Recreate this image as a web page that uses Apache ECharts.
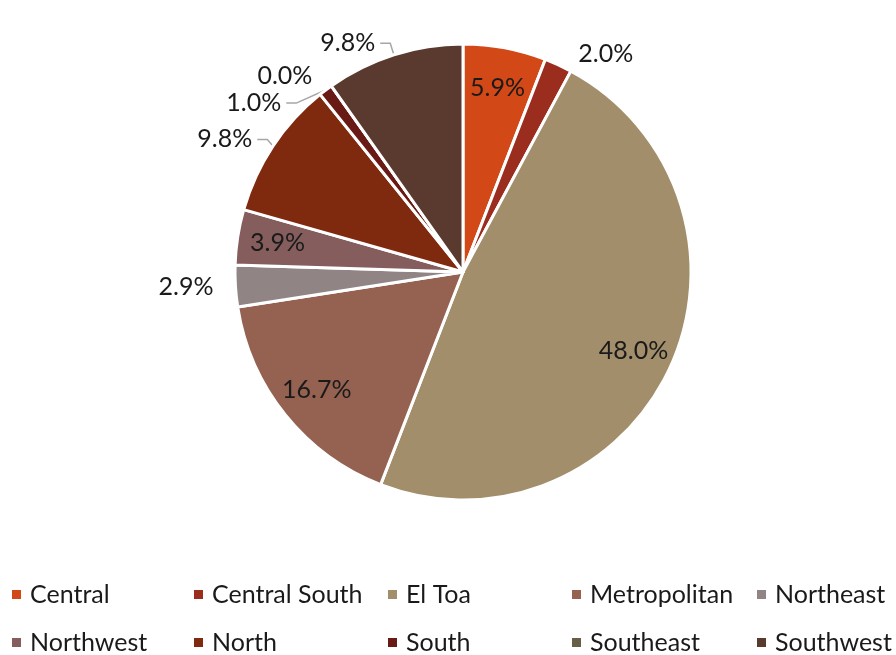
<!DOCTYPE html>
<html>
<head>
<meta charset="utf-8">
<script src="https://cdn.jsdelivr.net/npm/echarts@6/dist/echarts.min.js"></script>
<style>
  html, body { margin: 0; padding: 0; background: #fff; }
  #main { width: 896px; height: 655px; }
</style>
</head>
<body>
<div id="main"></div>
<script>
// regions and their counts (shown as percent of total)
const regions = ['Central', 'Central South', 'El Toa', 'Metropolitan', 'Northeast',
  'Northwest', 'North', 'South', 'Southeast', 'Southwest']
const counts = [6, 2, 49, 17, 3, 4, 10, 1, 0, 10]
const colors = ['#D34817', '#9B2D1F', '#A28E6A', '#956251', '#918485',
  '#855D5D', '#7F2A0E', '#6A1A14', '#675E47', '#5A3A2F']
// which slices carry their label inside
const insideLabel = [true, false, true, true, false, true, false, false, false, false]
// which outside labels have a leader line
const leaderLine = [false, false, false, false, false, false, true, true, false, true]

const total = counts.reduce((a, b) => a + b, 0)
const fmt = p => (p.value / total * 100).toFixed(1) + '%'

const center = [463, 272]
const radius = 228
const font = 'Lato'
const fontSize = 25

const chart = echarts.init(document.getElementById('main'))

// legend laid out in a fixed grid, one legend per entry
const colX = [10, 192, 386, 570, 755]
const rowY = [582, 630]
const legends = regions.map((name, i) => ({
  data: [name],
  left: colX[i % 5],
  top: rowY[Math.floor(i / 5)],
  icon: 'rect',
  itemWidth: 11,
  itemHeight: 11,
  padding: 0,
  selectedMode: false,
  textStyle: { fontFamily: font, fontSize: fontSize, color: '#1a1a1a', padding: [0, 0, 0, 3] }
}))

chart.setOption({
  animation: false,
  color: colors,
  legend: legends,
  series: [
    {
      type: 'pie',
      center: center,
      radius: radius,
      startAngle: 90,
      clockwise: true,
      avoidLabelOverlap: true,
      itemStyle: { borderColor: '#fff', borderWidth: 3 },
      label: {
        show: true,
        position: 'outside',
        formatter: fmt,
        fontFamily: font,
        fontSize: fontSize,
        color: '#1a1a1a'
      },
      labelLine: { show: true, length: 12, length2: 10, lineStyle: { color: '#a6a6a6', width: 1.5 } },
      data: regions.map((name, i) => ({
        name: name,
        value: counts[i],
        label: { show: !insideLabel[i] },
        labelLine: { show: leaderLine[i] }
      }))
    },
    {
      // transparent ring used only to place the inside labels further out
      type: 'pie',
      center: center,
      radius: [radius * 0.62, radius],
      startAngle: 90,
      clockwise: true,
      silent: true,
      itemStyle: { color: 'rgba(0,0,0,0)' },
      label: {
        position: 'inside',
        formatter: fmt,
        fontFamily: font,
        fontSize: fontSize,
        color: '#1a1a1a'
      },
      labelLine: { show: false },
      data: regions.map((name, i) => ({
        name: name,
        value: counts[i],
        label: { show: insideLabel[i] }
      }))
    }
  ]
})
</script>
</body>
</html>
